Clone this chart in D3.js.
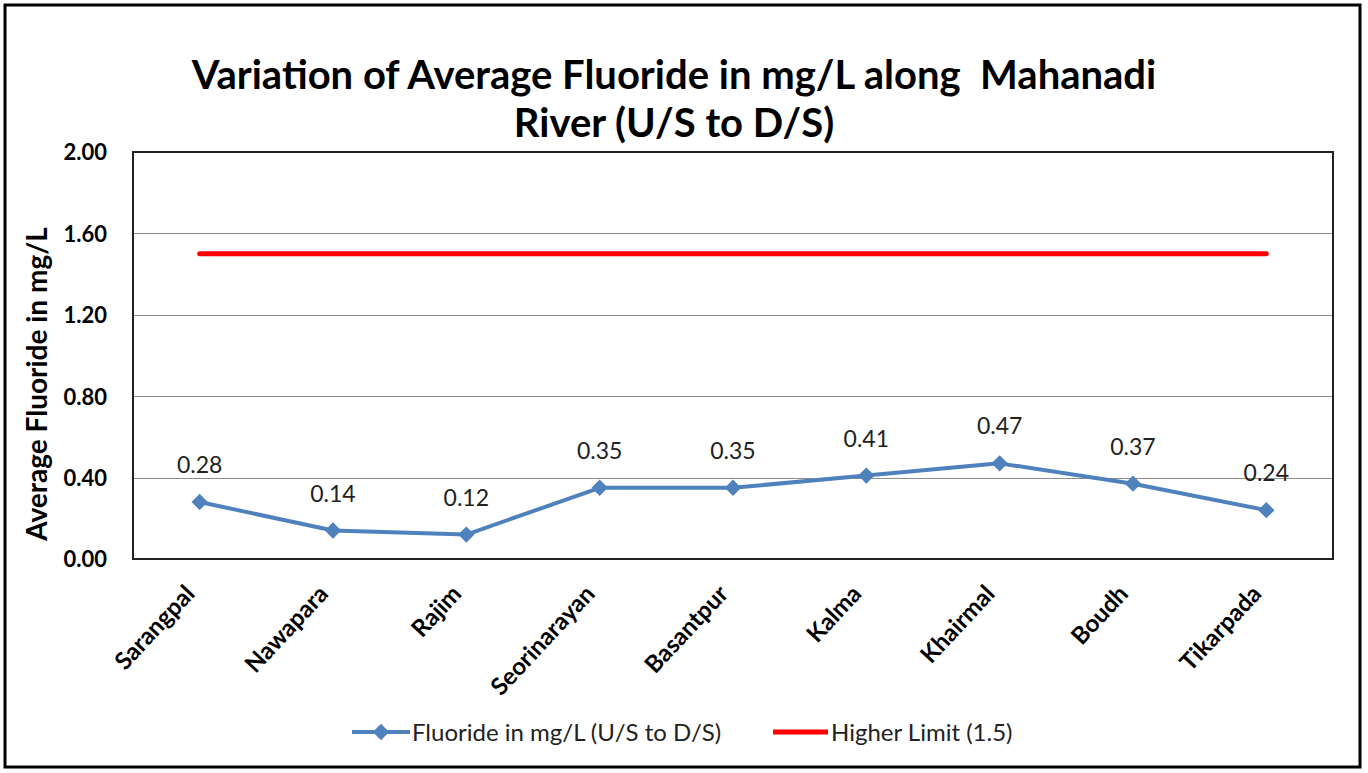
<!DOCTYPE html>
<html>
<head>
<meta charset="utf-8">
<script src="https://cdn.jsdelivr.net/npm/d3@7"></script>
<style>
  html, body { margin: 0; padding: 0; background: #fff; }
  svg { display: block; font-family: Lato, "Open Sans", sans-serif; }
  svg text { font-family: Lato, "Open Sans", sans-serif; }
  .grid line { stroke: #8c8c8c; stroke-width: 1; }
  .tick-y { font-size: 22px; font-weight: bold; fill: #000; }
  .tick-x { font-size: 24px; font-weight: bold; fill: #000; }
  .val { font-size: 23px; fill: #222; }
  .leg { font-size: 24px; fill: #222; }
</style>
</head>
<body>
<svg id="chart" width="1368" height="773"></svg>
<script>
// data
var sites = ['Sarangpal', 'Nawapara', 'Rajim', 'Seorinarayan', 'Basantpur', 'Kalma', 'Khairmal', 'Boudh', 'Tikarpada'];
var fluoride = [0.28, 0.14, 0.12, 0.35, 0.35, 0.41, 0.47, 0.37, 0.24];
var higherLimit = [1.5, 1.5, 1.5, 1.5, 1.5, 1.5, 1.5, 1.5, 1.5];
var yTicks = [0, 0.4, 0.8, 1.2, 1.6, 2.0];
var titleLines = ['Variation of Average Fluoride in mg/L along  Mahanadi', 'River (U/S to D/S)'];
var seriesNames = ['Fluoride in mg/L (U/S to D/S)', 'Higher Limit (1.5)'];

var svg = d3.select('#chart');
var plot = { left: 133, right: 1333, top: 152, bottom: 559 };

// outer frame
svg.append('rect')
   .attr('x', 5).attr('y', 5).attr('width', 1355).attr('height', 762)
   .attr('fill', '#fff').attr('stroke', '#000').attr('stroke-width', 3);

var x = d3.scalePoint().domain(sites).range([plot.left, plot.right]).padding(0.5);
var y = d3.scaleLinear().domain([0, 2]).range([plot.bottom, plot.top]);

// title
svg.append('g').selectAll('text')
   .data(titleLines)
   .enter().append('text')
   .attr('x', 674)
   .attr('y', function(d, i){ return 89 + i * 48; })
   .attr('text-anchor', 'middle')
   .style('font-size', '40px')
   .style('font-weight', 'bold')
   .style('white-space', 'pre')
   .attr('fill', '#000')
   .text(function(d){ return d; });

// gridlines
svg.append('g').attr('class', 'grid')
   .selectAll('line')
   .data(yTicks.filter(function(t){ return t > 0 && t < 2; }))
   .enter().append('line')
   .attr('x1', plot.left).attr('x2', plot.right)
   .attr('y1', function(d){ return Math.round(y(d)) + 0.5; })
   .attr('y2', function(d){ return Math.round(y(d)) + 0.5; });

// plot border
svg.append('rect')
   .attr('x', plot.left).attr('y', plot.top)
   .attr('width', plot.right - plot.left).attr('height', plot.bottom - plot.top)
   .attr('fill', 'none').attr('stroke', '#222').attr('stroke-width', 2);

// y axis labels
var yAxis = d3.axisLeft(y).tickValues(yTicks).tickFormat(d3.format('.2f')).tickSize(0).tickPadding(26);
var gy = svg.append('g').attr('transform', 'translate(' + plot.left + ',0)').call(yAxis);
gy.attr('font-family', null).attr('font-size', null);
gy.select('.domain').remove();
gy.selectAll('text').attr('class', 'tick-y').attr('dy', '0.36em');

// y axis title
svg.append('text')
   .attr('transform', 'translate(47,384) rotate(-90)')
   .attr('text-anchor', 'middle')
   .style('font-size', '28px')
   .style('font-weight', 'bold')
   .attr('fill', '#000')
   .text('Average Fluoride in mg/L');

// x axis labels
var xAxis = d3.axisBottom(x).tickSize(0).tickPadding(0);
var gx = svg.append('g').attr('transform', 'translate(0,' + plot.bottom + ')').call(xAxis);
gx.attr('font-family', null).attr('font-size', null);
gx.select('.domain').remove();
gx.selectAll('text')
  .attr('class', 'tick-x')
  .attr('text-anchor', 'end')
  .attr('dy', null)
  .attr('y', 0)
  .attr('transform', 'translate(-4,36) rotate(-47)');

// higher limit line
var line = d3.line()
   .x(function(d, i){ return x(sites[i]); })
   .y(function(d){ return y(d); });

svg.append('path')
   .datum(higherLimit)
   .attr('d', line)
   .attr('fill', 'none')
   .attr('stroke', '#ff0000')
   .attr('stroke-width', 5)
   .attr('stroke-linecap', 'round');

// fluoride line
svg.append('path')
   .datum(fluoride)
   .attr('d', line)
   .attr('fill', 'none')
   .attr('stroke', '#4f81bd')
   .attr('stroke-width', 4)
   .attr('stroke-linejoin', 'round');

var diamond = d3.symbol().type(d3.symbolDiamond2).size(170);
svg.append('g').selectAll('path')
   .data(fluoride)
   .enter().append('path')
   .attr('d', diamond)
   .attr('transform', function(d, i){ return 'translate(' + x(sites[i]) + ',' + y(d) + ')'; })
   .attr('fill', '#4f81bd');

// value labels
svg.append('g').selectAll('text')
   .data(fluoride)
   .enter().append('text')
   .attr('class', 'val')
   .attr('x', function(d, i){ return x(sites[i]); })
   .attr('y', function(d){ return y(d) - 29; })
   .attr('text-anchor', 'middle')
   .text(function(d){ return d.toFixed(2); });

// legend
var leg = svg.append('g').attr('transform', 'translate(0,732)');
leg.append('line').attr('x1', 352).attr('x2', 410).attr('y1', 0).attr('y2', 0)
   .attr('stroke', '#4f81bd').attr('stroke-width', 4);
leg.append('path').attr('d', diamond).attr('transform', 'translate(381,0)').attr('fill', '#4f81bd');
leg.append('text').attr('class', 'leg').attr('x', 412).attr('y', 0).attr('dy', '0.36em').text(seriesNames[0]);
leg.append('line').attr('x1', 773).attr('x2', 828).attr('y1', 0).attr('y2', 0)
   .attr('stroke', '#ff0000').attr('stroke-width', 5);
leg.append('text').attr('class', 'leg').attr('x', 831).attr('y', 0).attr('dy', '0.36em').text(seriesNames[1]);
</script>
</body>
</html>
